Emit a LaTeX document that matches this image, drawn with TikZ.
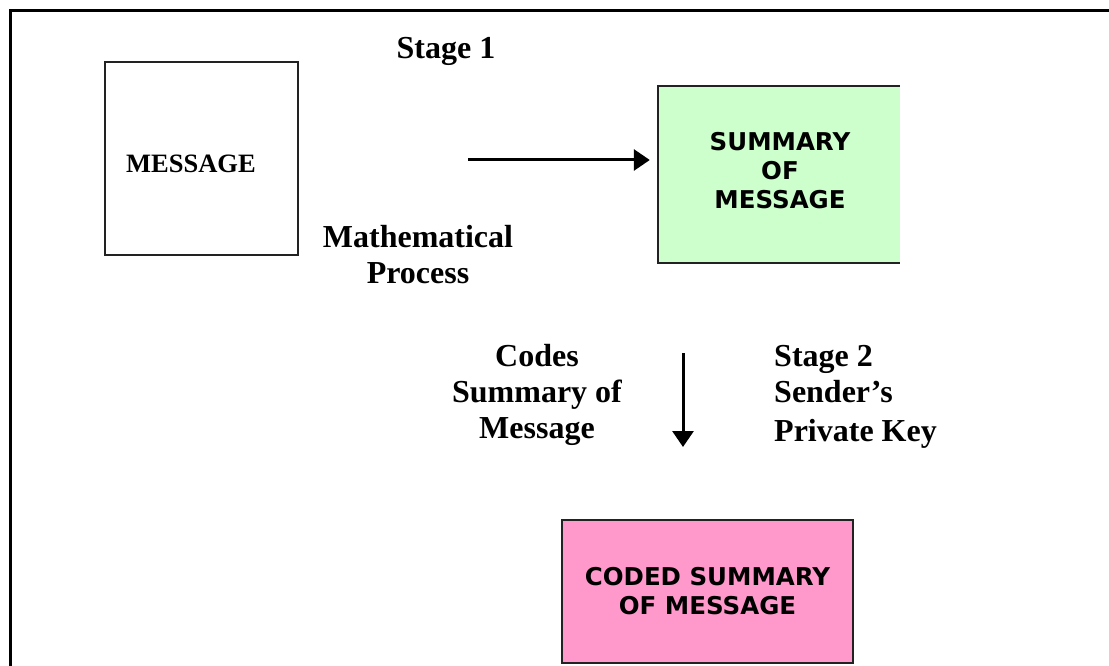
\documentclass[tikz,border=0pt]{standalone}
\usepackage{fontspec}
\setmainfont{Liberation Serif}
\newfontfamily\boxfont{DejaVu Sans}
\usetikzlibrary{arrows.meta}
\definecolor{sumgreen}{HTML}{CCFFCC}
\definecolor{codepink}{HTML}{FF99CC}
\definecolor{edgegray}{HTML}{222222}
\tikzset{
  lbl/.style={font=\fontsize{32}{36}\selectfont\bfseries, inner sep=0pt},
  boxtxt/.style={font=\boxfont\bfseries\fontsize{24.5}{29}\selectfont, align=center, inner sep=0pt},
  arr/.style={line width=3pt, -{Triangle[length=16pt,width=21pt]}},
  frame/.style={line width=3pt},
  plainbox/.style={draw=edgegray, line width=1.2pt, inner sep=0pt},
}
\begin{document}
\begin{tikzpicture}[x=1pt,y=-1pt]
\useasboundingbox (0,0) rectangle (1109,666);
% outer frame (top and left edges only)
\draw[frame] (10,666) -- (10,11) -- (1109,11);
% MESSAGE box
\node[plainbox, minimum width=193pt, minimum height=193pt] (msg) at (201.5,158.5) {};
\node[font=\fontsize{26.5}{30}\selectfont\bfseries, inner sep=0pt] (msgtxt) at (191,164) {MESSAGE};
% SUMMARY box: fill, border on top, left, bottom
\node[fill=sumgreen, minimum width=242pt, minimum height=177pt, inner sep=0pt] (sum) at (779,174.5) {};
\draw[edgegray, line width=2pt] (sum.north east) -- (sum.north west) -- (sum.south west) -- (sum.south east);
\node[boxtxt] (sumtxt) at (780,171) {SUMMARY\\OF\\MESSAGE};
% CODED box
\node[boxtxt, fill=codepink, draw=edgegray, line width=2pt, minimum width=291pt, minimum height=143pt] (coded) at (707.5,591.5) {CODED SUMMARY\\OF MESSAGE};
% labels (base anchor = baseline of last line)
\node[lbl, anchor=base] (stage1) at (446,59) {Stage 1};
\node[lbl, anchor=base, align=center] (math) at (418,283) {Mathematical\\Process};
\node[lbl, anchor=base, align=center] (codes) at (537,438) {Codes\\Summary of\\Message};
\node[lbl, anchor=base west, align=left] (stage2) at (774,441) {Stage 2\\Sender’s\\[3pt]Private Key};
% arrows
\coordinate (a1s) at (468,160);
\draw[arr, shorten >=8pt] (a1s) -- (a1s -| sum.west);
\coordinate (a2s) at (683,353);
\coordinate (a2e) at (683,447);
\draw[arr] (a2s) -- (a2e);
\end{tikzpicture}
\end{document}
